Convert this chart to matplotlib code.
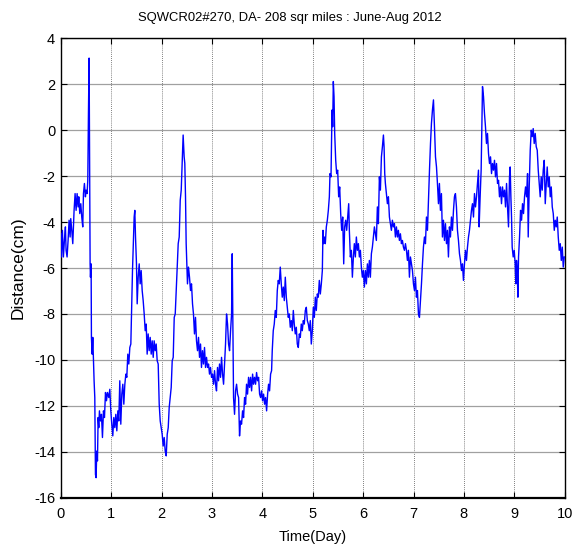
import matplotlib
matplotlib.use("Agg")
import matplotlib.pyplot as plt

plt.rcParams['font.family'] = ['Liberation Sans', 'DejaVu Sans']
plt.rcParams['axes.unicode_minus'] = False

title = "SQWCR02#270, DA- 208 sqr miles : June-Aug 2012"
xlabel = "Time(Day)"
ylabel = "Distance(cm)"
xticks = [0, 1, 2, 3, 4, 5, 6, 7, 8, 9, 10]
yticks = [4, 2, 0, -2, -4, -6, -8, -10, -12, -14, -16]

time_day = [
    0.0, 0.013, 0.033, 0.053, 0.073, 0.093, 0.106, 0.126, 0.146, 0.166, 0.186, 0.199, 0.219, 0.239, 0.252,
    0.265, 0.285, 0.305, 0.325, 0.345, 0.358, 0.378, 0.398, 0.417, 0.437, 0.451, 0.470, 0.490, 0.503, 0.523,
    0.537, 0.550, 0.563, 0.570, 0.576, 0.583, 0.590, 0.603, 0.609, 0.623, 0.636, 0.649, 0.662, 0.676, 0.689,
    0.702, 0.715, 0.729, 0.742, 0.755, 0.768, 0.788, 0.808, 0.828, 0.848, 0.868, 0.888, 0.908, 0.927, 0.954,
    0.974, 0.994, 1.013, 1.033, 1.053, 1.073, 1.093, 1.113, 1.133, 1.152, 1.172, 1.192, 1.212, 1.232, 1.252,
    1.272, 1.292, 1.311, 1.331, 1.351, 1.371, 1.391, 1.404, 1.424, 1.444, 1.457, 1.470, 1.484, 1.503, 1.517,
    1.537, 1.557, 1.576, 1.596, 1.616, 1.636, 1.656, 1.676, 1.696, 1.715, 1.735, 1.755, 1.775, 1.795, 1.815,
    1.835, 1.854, 1.874, 1.894, 1.914, 1.934, 1.954, 1.974, 1.994, 2.013, 2.033, 2.053, 2.073, 2.093, 2.113,
    2.133, 2.152, 2.172, 2.192, 2.212, 2.232, 2.252, 2.272, 2.292, 2.311, 2.331, 2.351, 2.371, 2.391, 2.411,
    2.429, 2.449, 2.462, 2.476, 2.489, 2.502, 2.515, 2.535, 2.555, 2.575, 2.595, 2.615, 2.634, 2.654, 2.674,
    2.694, 2.714, 2.734, 2.754, 2.774, 2.793, 2.813, 2.833, 2.853, 2.873, 2.893, 2.913, 2.933, 2.952, 2.972,
    2.992, 3.012, 3.032, 3.052, 3.072, 3.091, 3.111, 3.131, 3.151, 3.171, 3.191, 3.211, 3.231, 3.250, 3.270,
    3.290, 3.310, 3.330, 3.350, 3.370, 3.390, 3.403, 3.416, 3.429, 3.449, 3.469, 3.489, 3.509, 3.529, 3.548,
    3.568, 3.588, 3.608, 3.628, 3.648, 3.668, 3.687, 3.707, 3.727, 3.747, 3.767, 3.787, 3.807, 3.826, 3.846,
    3.866, 3.886, 3.906, 3.926, 3.946, 3.966, 3.985, 4.005, 4.025, 4.045, 4.065, 4.085, 4.105, 4.124, 4.144,
    4.164, 4.184, 4.197, 4.217, 4.237, 4.257, 4.277, 4.297, 4.316, 4.336, 4.356, 4.376, 4.396, 4.416, 4.436,
    4.456, 4.476, 4.495, 4.515, 4.535, 4.555, 4.575, 4.595, 4.615, 4.634, 4.654, 4.674, 4.694, 4.714, 4.734,
    4.754, 4.773, 4.793, 4.813, 4.833, 4.853, 4.873, 4.893, 4.913, 4.932, 4.952, 4.972, 4.992, 5.012, 5.032,
    5.052, 5.071, 5.091, 5.111, 5.131, 5.151, 5.171, 5.191, 5.204, 5.217, 5.230, 5.250, 5.270, 5.290, 5.310,
    5.330, 5.343, 5.363, 5.383, 5.396, 5.409, 5.423, 5.436, 5.456, 5.475, 5.495, 5.515, 5.535, 5.555, 5.575,
    5.595, 5.615, 5.634, 5.654, 5.674, 5.694, 5.714, 5.727, 5.747, 5.767, 5.787, 5.807, 5.826, 5.846, 5.866,
    5.886, 5.906, 5.926, 5.946, 5.965, 5.985, 6.005, 6.025, 6.045, 6.065, 6.085, 6.105, 6.124, 6.144, 6.164,
    6.184, 6.204, 6.224, 6.244, 6.263, 6.283, 6.303, 6.323, 6.343, 6.363, 6.383, 6.403, 6.416, 6.429, 6.442,
    6.462, 6.482, 6.502, 6.522, 6.542, 6.561, 6.581, 6.601, 6.621, 6.641, 6.661, 6.681, 6.700, 6.720, 6.740,
    6.760, 6.780, 6.800, 6.820, 6.840, 6.860, 6.879, 6.899, 6.919, 6.939, 6.959, 6.979, 6.999, 7.019, 7.038,
    7.058, 7.078, 7.098, 7.118, 7.138, 7.158, 7.178, 7.197, 7.217, 7.237, 7.257, 7.277, 7.297, 7.317, 7.337,
    7.356, 7.376, 7.396, 7.416, 7.436, 7.456, 7.475, 7.495, 7.514, 7.534, 7.554, 7.574, 7.594, 7.614, 7.634,
    7.654, 7.673, 7.693, 7.713, 7.733, 7.753, 7.773, 7.793, 7.812, 7.832, 7.852, 7.872, 7.892, 7.912, 7.932,
    7.952, 7.971, 7.991, 8.011, 8.031, 8.051, 8.071, 8.091, 8.110, 8.130, 8.150, 8.170, 8.190, 8.210, 8.230,
    8.250, 8.269, 8.289, 8.302, 8.322, 8.342, 8.355, 8.369, 8.389, 8.408, 8.428, 8.448, 8.468, 8.488, 8.508,
    8.528, 8.548, 8.567, 8.587, 8.607, 8.627, 8.647, 8.667, 8.687, 8.706, 8.726, 8.746, 8.766, 8.786, 8.806,
    8.826, 8.846, 8.865, 8.885, 8.905, 8.918, 8.932, 8.945, 8.958, 8.978, 8.998, 9.018, 9.031, 9.044, 9.058,
    9.071, 9.084, 9.104, 9.124, 9.144, 9.163, 9.183, 9.203, 9.223, 9.243, 9.263, 9.276, 9.296, 9.316, 9.336,
    9.356, 9.375, 9.395, 9.415, 9.435, 9.455, 9.475, 9.494, 9.514, 9.534, 9.554, 9.574, 9.594, 9.614, 9.634,
    9.653, 9.673, 9.693, 9.713, 9.733, 9.753, 9.773, 9.793, 9.812, 9.832, 9.852, 9.872, 9.892, 9.912, 9.932,
    9.952, 9.971, 9.991,
]

distance_cm = [
    -4.50, -5.52, -4.36, -5.52, -4.80, -4.21, -5.23, -5.52, -4.80, -3.92, -4.65, -3.85, -4.36, -4.94, -4.21,
    -3.49, -2.76, -3.49, -2.76, -3.34, -2.90, -3.63, -3.20, -3.78, -4.21, -2.76, -2.32, -2.90, -2.61, -2.76,
    -2.18, 0.73, 3.14, 0.00, -2.61, -5.82, -6.40, -5.82, -9.02, -9.75, -9.02, -10.04, -10.91, -11.64, -14.99,
    -15.13, -13.97, -14.40, -12.51, -12.95, -12.22, -12.66, -12.37, -13.38, -12.22, -12.51, -11.42, -11.78, -11.42, -11.64,
    -11.28, -12.22, -12.80, -13.31, -12.51, -12.95, -12.37, -13.09, -12.22, -12.66, -10.91, -12.80, -11.49, -11.06, -11.93,
    -11.06, -10.62, -10.76, -9.75, -10.18, -9.46, -9.31, -8.00, -6.11, -4.65, -3.78, -3.49, -4.65, -5.82, -7.56,
    -6.40, -5.82, -6.69, -6.11, -6.98, -7.42, -8.00, -8.73, -8.44, -9.75, -8.87, -9.60, -9.02, -9.75, -9.17,
    -9.89, -9.17, -9.60, -9.31, -10.04, -10.18, -11.93, -12.66, -12.95, -13.24, -13.75, -13.38, -13.97, -14.18, -13.24,
    -12.95, -12.08, -11.64, -11.20, -10.04, -9.89, -8.15, -8.00, -6.98, -6.11, -4.94, -4.65, -3.05, -2.61, -1.31,
    -0.21, -1.16, -1.45, -2.90, -4.94, -5.82, -6.69, -5.96, -6.40, -6.98, -6.69, -7.56, -8.00, -8.87, -8.15,
    -9.17, -9.60, -9.02, -9.89, -9.31, -10.33, -9.60, -10.18, -9.46, -10.33, -9.89, -10.33, -10.18, -10.62, -10.33,
    -10.76, -10.62, -11.06, -10.47, -11.06, -11.35, -10.33, -10.91, -10.18, -10.76, -9.89, -10.62, -11.06, -10.18, -9.31,
    -8.00, -8.44, -9.31, -9.60, -8.73, -8.00, -5.38, -8.73, -11.64, -12.37, -11.35, -11.06, -11.49, -11.64, -13.31,
    -12.66, -12.80, -12.22, -12.51, -11.64, -11.93, -11.06, -11.49, -10.76, -11.20, -10.76, -11.35, -10.62, -11.06, -10.76,
    -11.06, -10.55, -10.91, -10.76, -11.49, -11.64, -11.35, -11.78, -11.49, -11.93, -11.64, -12.22, -11.49, -11.06, -11.35,
    -10.62, -10.47, -9.60, -8.73, -8.44, -7.85, -8.15, -6.98, -6.54, -6.69, -5.96, -6.69, -7.27, -6.83, -7.42,
    -6.40, -7.27, -7.71, -8.15, -8.00, -8.58, -8.29, -8.73, -7.85, -8.44, -8.87, -8.58, -9.31, -9.46, -8.87,
    -9.02, -8.44, -8.73, -8.29, -8.44, -7.85, -7.71, -8.29, -8.44, -8.73, -8.29, -9.31, -8.73, -7.71, -8.15,
    -7.27, -7.85, -7.13, -7.27, -6.54, -7.13, -6.69, -6.11, -4.36, -4.94, -4.65, -4.94, -4.21, -3.92, -3.49,
    -2.90, -1.89, -2.03, 0.88, 0.15, 2.12, 1.46, -0.14, -1.31, -1.89, -1.74, -2.90, -2.47, -3.63, -4.36,
    -3.78, -5.82, -4.21, -3.92, -4.36, -3.78, -3.20, -4.36, -5.52, -5.23, -6.40, -5.52, -4.94, -5.52, -4.65,
    -5.23, -4.94, -5.52, -5.23, -5.96, -6.40, -6.11, -6.83, -6.11, -6.69, -5.82, -6.40, -5.67, -6.40, -5.38,
    -5.09, -4.65, -4.21, -4.51, -4.80, -3.34, -4.07, -2.03, -2.61, -1.16, -0.72, -0.21, -0.72, -1.89, -2.32,
    -2.76, -3.20, -2.90, -3.78, -4.07, -4.36, -3.92, -4.21, -4.07, -4.65, -4.21, -4.65, -4.36, -4.80, -4.51,
    -4.94, -4.80, -5.09, -5.23, -4.94, -5.23, -5.67, -5.23, -6.40, -5.52, -5.82, -6.11, -6.69, -6.98, -6.40,
    -7.27, -6.98, -8.00, -8.15, -7.42, -6.69, -5.82, -5.09, -4.65, -4.94, -3.78, -4.36, -3.05, -1.74, -0.58,
    0.30, 0.88, 1.32, 0.15, -1.16, -1.60, -2.32, -3.20, -2.32, -3.49, -2.76, -4.65, -3.92, -4.80, -4.07,
    -4.94, -4.36, -5.52, -4.21, -4.65, -3.78, -4.36, -3.49, -2.90, -2.76, -3.34, -4.36, -4.80, -5.38, -5.67,
    -6.11, -5.82, -6.54, -5.82, -5.23, -5.67, -5.09, -4.65, -4.36, -3.92, -3.49, -3.20, -3.78, -2.76, -3.34,
    -2.90, -2.32, -1.74, -4.21, -2.90, -1.74, 0.00, 1.90, 1.46, 0.73, 0.15, -0.58, -0.14, -1.01, -1.45,
    -1.16, -1.89, -1.45, -1.74, -1.31, -2.03, -1.45, -2.32, -2.18, -2.90, -2.47, -3.20, -2.47, -2.90, -2.61,
    -3.34, -2.32, -3.34, -4.21, -2.03, -1.60, -2.90, -3.78, -5.09, -5.52, -5.23, -5.82, -6.69, -5.67, -6.11,
    -7.27, -5.52, -4.65, -3.49, -3.92, -3.20, -3.63, -2.90, -2.47, -2.90, -1.89, -4.65, -2.47, -0.87, 0.00,
    -0.28, 0.07, -0.58, -0.14, -0.72, -0.87, -1.74, -2.32, -2.90, -2.03, -2.61, -1.74, -1.31, -3.20, -2.32,
    -1.60, -2.47, -2.03, -2.90, -2.47, -3.34, -3.63, -4.36, -3.92, -4.21, -3.78, -4.65, -5.23, -4.94, -5.67,
    -5.09, -5.96, -5.52,
]

fig = plt.figure(figsize=(5.74, 5.46), dpi=100)
ax = fig.add_axes([0.1058, 0.0885, 0.8780, 0.8413])

ax.plot(time_day, distance_cm, color=(0, 0, 1), lw=1.0, zorder=3)

ax.set_xlim(0, 10)
ax.set_ylim(-16, 4)
ax.set_xticks(xticks)
ax.set_yticks(yticks)

ax.xaxis.grid(True, color='#555555', linestyle=(0, (1, 1.5)), lw=0.6)
ax.yaxis.grid(True, color='#a0a0a0', linestyle='-', lw=0.9)
ax.set_axisbelow(True)

ax.tick_params(direction='in', length=4, width=0.8, top=True, right=True,
               labelsize=10.5, colors='k')
ax.tick_params(axis='x', pad=7)
ax.tick_params(axis='y', pad=4)
for s in ax.spines.values():
    s.set_linewidth(1.0)
    s.set_color('k')
ax.spines['bottom'].set_linewidth(1.6)

fig.text(289.5 / 574, 1 - 18 / 546, title, fontsize=9.4, ha='center', va='center')
ax.set_xlabel(xlabel, fontsize=10.5, labelpad=6)
ax.set_ylabel(ylabel, fontsize=12.5, labelpad=6)

fig.savefig("out.png", dpi=100)
